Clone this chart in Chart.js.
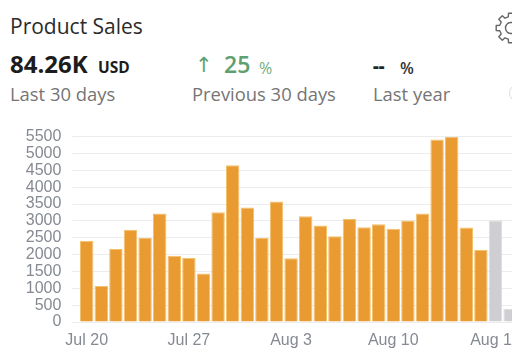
<!DOCTYPE html>
<html>
<head>
<meta charset="utf-8">
<script src="https://cdn.jsdelivr.net/npm/chart.js@4"></script>
<style>
html, body { margin: 0; padding: 0; background: #fff; width: 512px; height: 352px; overflow: hidden; }
body { position: relative; font-family: "Open Sans", sans-serif; }
.t { position: absolute; white-space: nowrap; line-height: 1; }
#wrap { position: absolute; left: 0; top: 120px; width: 540px; height: 232px; }
</style>
</head>
<body>
<div class="t" style="left:10px;top:16px;font-size:21px;color:#2b2b2b">Product Sales</div>
<div class="t" style="left:10px;top:52px;font-size:24px;font-weight:700;color:#1c1c1c">84.26K</div>
<div class="t" style="left:98px;top:60px;font-size:15.5px;font-weight:700;color:#1c1c1c">USD</div>
<div class="t" style="left:195px;top:55px;font-size:21px;font-family:'DejaVu Sans';color:#5f9f70">↑</div>
<div class="t" style="left:10px;top:85px;font-size:18.4px;color:#757575">Last 30 days</div>
<div class="t" style="left:224px;top:53px;font-size:23px;font-weight:600;color:#5f9f70">25</div>
<div class="t" style="left:259px;top:60px;font-size:16px;color:#6fae80">%</div>
<div class="t" style="left:192px;top:85px;font-size:18.4px;color:#757575">Previous 30 days</div>
<div class="t" style="left:373px;top:56px;font-size:18px;font-weight:800;color:#222">--</div>
<div class="t" style="left:400px;top:60px;font-size:16px;font-weight:600;color:#333">%</div>
<div class="t" style="left:373px;top:85px;font-size:18.4px;color:#757575">Last year</div>
<svg style="position:absolute;left:490px;top:10px" width="40" height="36" viewBox="0 0 40 36">
  <path id="gear" fill="none" stroke="#666" stroke-width="1.4" stroke-linejoin="round"/>
  <circle cx="21" cy="18" r="5.5" fill="none" stroke="#666" stroke-width="1.4"/>
</svg>
<div style="position:absolute;left:509px;top:84px;width:16px;height:16px;border:1px solid #ddd;border-radius:50%"></div>
<div id="wrap"><canvas id="cadre" width="540" height="232"></canvas></div>
<script>
const days = ['Jul 20','Jul 21','Jul 22','Jul 23','Jul 24','Jul 25','Jul 26','Jul 27','Jul 28','Jul 29','Jul 30','Jul 31',
  'Aug 1','Aug 2','Aug 3','Aug 4','Aug 5','Aug 6','Aug 7','Aug 8','Aug 9','Aug 10','Aug 11','Aug 12','Aug 13','Aug 14','Aug 15','Aug 16','Aug 17','Aug 18'];
const sales = [2410,1070,2170,2735,2490,3220,1970,1900,1440,3260,4650,3400,2490,3580,1890,3140,2865,2545,3060,2815,2905,2765,3010,3220,5420,5500,2805,2140,null,null];
const pending = [null,null,null,null,null,null,null,null,null,null,null,null,null,null,null,null,null,null,null,null,null,null,null,null,null,null,null,null,3010,395];
const shownDays = ['Jul 20','Jul 27','Aug 3','Aug 10','Aug 17'];

// settings icon outline, eight teeth
let d = '';
for (let i = 0; i < 8; i++) {
  const a = i * Math.PI / 4;
  [[-0.24, 11.5], [-0.17, 15], [0.17, 15], [0.24, 11.5]].forEach(p => {
    const x = 21 + p[1] * Math.cos(a + p[0]), y = 18 + p[1] * Math.sin(a + p[0]);
    d += (d ? 'L' : 'M') + x.toFixed(1) + ' ' + y.toFixed(1);
  });
}
document.getElementById('gear').setAttribute('d', d + 'Z');

const ctx = document.getElementById('cadre').getContext('2d');
new Chart(ctx, {
  type: 'bar',
  data: {
    labels: days,
    datasets: [
      { data: sales, backgroundColor: '#e99b32', borderColor: '#f3c16e', borderWidth: 1, barPercentage: 0.92, categoryPercentage: 1, stack: 's' },
      { data: pending, backgroundColor: '#cfcfd3', borderColor: '#dcdce0', borderWidth: 1, barPercentage: 0.92, categoryPercentage: 1, stack: 's' }
    ]
  },
  options: {
    responsive: false,
    animation: false,
    layout: { padding: { left: 0, right: 22.6, top: 16.7, bottom: 0 } },
    plugins: { legend: { display: false }, tooltip: { enabled: false } },
    scales: {
      x: {
        stacked: true,
        grid: { display: false },
        border: { display: false },
        afterFit: s => { s.height = 30; s.paddingLeft = 0; s.paddingRight = 0; },
        ticks: {
          autoSkip: false, maxRotation: 0, minRotation: 0, padding: 1,
          color: '#858a92', font: { family: 'Liberation Sans', size: 16 },
          callback: function (v) { const l = this.getLabelForValue(v); return shownDays.includes(l) ? l : ''; }
        }
      },
      y: {
        stacked: true,
        min: 0, max: 5500,
        afterFit: s => { s.width = 79.4; s.paddingTop = 0; s.paddingBottom = 0; },
        border: { display: false },
        grid: { color: '#ececee', lineWidth: 1, tickLength: 7, tickColor: '#ececee' },
        ticks: { stepSize: 500, autoSkip: false, padding: 11, color: '#858a92', font: { family: 'Liberation Sans', size: 16 }, callback: v => String(v) }
      }
    }
  }
});
</script>
</body>
</html>
